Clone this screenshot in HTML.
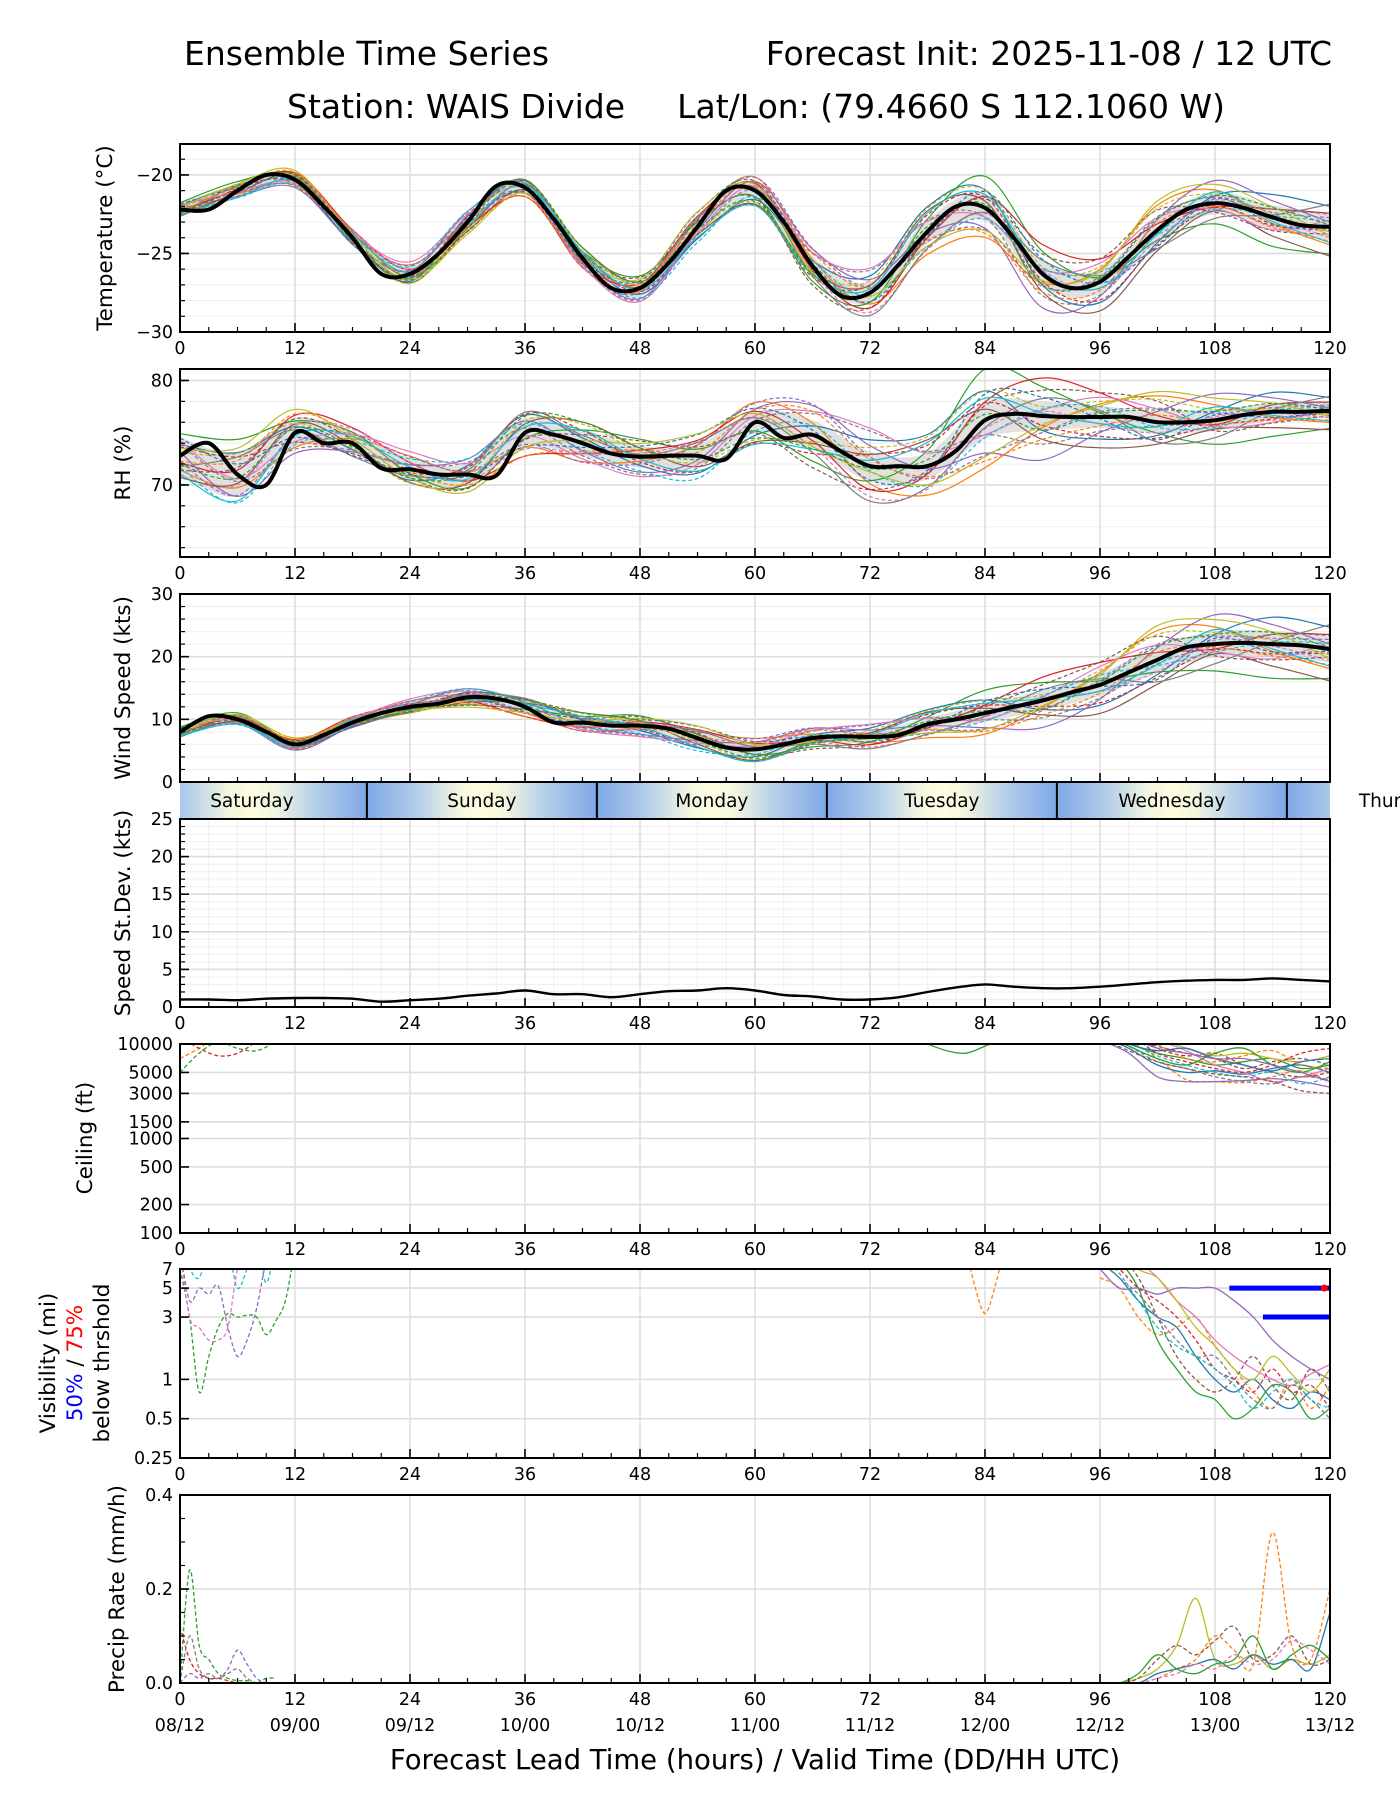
<!DOCTYPE html>
<html><head><meta charset="utf-8"><style>
html,body{margin:0;padding:0;background:#fff;width:1400px;height:1800px;overflow:hidden}
svg{display:block;font-family:"DejaVu Sans","Liberation Sans",sans-serif}
</style></head><body>
<svg id="chart" xmlns="http://www.w3.org/2000/svg" width="1400" height="1800" viewBox="0 0 1400 1800">
<text x="184" y="65" font-size="33">Ensemble Time Series</text>
<text x="1332" y="65" font-size="33" text-anchor="end">Forecast Init: 2025-11-08 / 12 UTC</text>
<text x="287" y="118" font-size="33">Station: WAIS Divide</text>
<text x="1225" y="118" font-size="33" text-anchor="end">Lat/Lon: (79.4660 S 112.1060 W)</text>
<text x="755" y="1769" font-size="27.5" text-anchor="middle">Forecast Lead Time (hours) / Valid Time (DD/HH UTC)</text>
</svg>
<script>
// ---------- data ----------
const hours3 = [0,3,6,9,12,15,18,21,24,27,30,33,36,39,42,45,48,51,54,57,60,63,66,69,72,75,78,81,84,87,90,93,96,99,102,105,108,111,114,117,120];
const hours6 = [0,6,12,18,24,30,36,42,48,54,60,66,72,78,84,90,96,102,108,114,120];
const xTicks = [0,12,24,36,48,60,72,84,96,108,120];
const dateLabels = ["08/12","09/00","09/12","10/00","10/12","11/00","11/12","12/00","12/12","13/00","13/12"];
const dayNames = ["Saturday","Sunday","Monday","Tuesday","Wednesday","Thursday"];
const dayBoundaries = [19.5,43.5,67.5,91.5,115.5];

const tempMean = [-22.2,-22.2,-21.0,-20.0,-20.3,-22.0,-24.0,-26.3,-26.3,-25.0,-23.0,-20.7,-20.8,-22.8,-25.3,-27.2,-27.2,-25.6,-23.3,-21.0,-21.0,-23.0,-25.8,-27.7,-27.5,-25.7,-23.6,-22.0,-22.1,-24.0,-26.3,-27.2,-26.8,-25.2,-23.5,-22.2,-21.8,-22.1,-22.7,-23.2,-23.3];
const rhMean = [72.8,74.0,71.0,70.0,75.0,74.0,74.0,71.6,71.5,71.0,71.0,70.9,75.0,74.8,74.0,73.0,72.7,72.8,72.8,72.5,76.0,74.5,74.8,73.2,71.8,71.8,71.8,73.3,76.2,76.8,76.6,76.5,76.5,76.5,76.0,76.0,76.2,76.7,77.0,77.0,77.1];
const windMean = [8,10.5,10,8,6,7.5,9.5,11,12,12.5,13.5,13.3,12,9.5,9.5,9,9,8.5,7,5.5,5.2,6,7,7.3,7.2,7.5,9.2,10,11,12,13,14.3,15.5,17.5,19.5,21.5,22,22.2,22,21.8,21.2];
const windStd = [1.0,1.0,0.9,1.1,1.2,1.2,1.1,0.7,0.9,1.1,1.5,1.8,2.2,1.7,1.7,1.3,1.7,2.1,2.2,2.5,2.2,1.6,1.4,1.0,1.0,1.3,2.0,2.6,3.0,2.7,2.5,2.5,2.7,3.0,3.3,3.5,3.6,3.6,3.8,3.6,3.4];

const tempSpread = [0.6,0.6,0.6,0.6,0.8,0.8,0.6,0.7,0.8,0.8,0.8,0.9,1.0,1.1,1.2,1.2,1.1,1.1,1.0,1.1,1.2];
const rhSpread = [2.5,3.0,2.0,1.5,1.5,1.5,2.0,1.8,1.5,1.5,1.5,2.0,2.0,1.8,2.5,2.0,1.5,1.5,1.5,1.2,1.0];
const windSpread = [1.0,1.0,1.0,1.0,1.2,1.5,1.5,1.5,1.5,1.5,1.5,1.2,1.2,1.5,2.0,2.2,2.5,3.0,3.0,3.0,3.0];

const memberOffsets = [
 [0.3,0.5,0.2,-0.3,-0.5,0.4,0.6,0.2,-0.4,-0.8,-0.6,0.3,0.9,1.2,0.8,-0.5,-1.0,-0.6,0.4,1.1,0.9],
 [-0.4,-0.3,-0.5,0.2,0.6,0.1,-0.5,-0.7,-0.2,0.5,0.9,0.4,-0.6,-1.1,-1.3,-0.4,0.6,1.2,0.7,-0.3,-0.8],
 [0.6,0.8,0.4,0.5,-0.2,-0.6,-0.2,0.5,0.8,0.3,-0.4,-0.9,-0.5,0.6,1.4,1.0,0.2,-0.5,-1.1,-1.4,-1.2],
 [-0.2,0.1,0.6,0.7,0.3,-0.3,-0.8,-0.4,0.3,0.7,0.5,-0.2,-0.8,-0.3,0.5,1.3,1.1,0.3,-0.2,0.4,0.6],
 [0.1,-0.5,-0.7,-0.4,0.2,0.7,0.4,-0.3,-0.7,-0.2,0.6,1.0,0.7,-0.1,-0.9,-1.5,-0.7,0.5,1.2,0.8,0.2],
 [-0.6,-0.2,0.3,-0.1,-0.6,-0.4,0.3,0.8,0.4,-0.5,-0.9,-0.3,0.4,1.0,0.3,-0.8,-1.4,-1.0,-0.4,-0.9,-1.3],
 [0.4,-0.1,-0.3,0.4,0.8,0.5,-0.1,-0.6,-0.9,-0.4,0.3,0.8,1.3,0.5,-0.4,0.2,0.9,0.6,-0.3,-0.6,0.3],
 [-0.3,0.4,0.1,-0.6,-0.3,0.2,0.7,0.3,0.1,0.6,0.2,-0.6,-1.2,-0.8,-0.2,0.6,0.3,-0.9,-0.8,0.1,1.0],
 [0.2,0.6,0.8,0.2,-0.4,-0.8,-0.5,0.1,0.6,1.0,0.4,-0.4,-0.2,-0.7,-1.0,-0.3,0.5,1.4,1.0,0.5,-0.4],
 [-0.5,-0.6,-0.1,0.3,0.1,-0.2,0.2,0.5,-0.1,-0.7,-1.0,-0.5,0.2,0.9,0.6,0.1,-0.3,-0.2,0.6,-0.2,-0.7]
];

const ceilLateHours = [96,99,102,105,108,111,114,117,120];
const ceilLate = [
 [12000,9000,6000,5000,5200,4800,5500,6000,5000],
 [15000,11000,7000,4200,4000,3900,4500,5200,4000],
 [12000,10000,8000,7000,6000,6500,7000,5500,6000],
 [20000,14000,9000,7500,8000,6000,5000,4500,5000],
 [11000,8000,4500,4000,4000,4100,4300,4000,3500],
 [18000,12000,9500,8000,7000,5500,6500,7000,6000],
 [25000,15000,11000,8500,6000,5000,4000,4500,5500],
 [13000,9500,6500,5500,4500,4000,3800,4500,4200],
 [30000,20000,12000,9000,7500,8000,7000,6500,7500],
 [16000,10500,7500,6000,5000,4500,5000,3800,4500],
 [14000,10000,8500,9000,7000,6000,5200,6500,7000],
 [20000,16000,10000,7000,6500,7500,8500,6000,5500],
 [12500,9500,7000,6000,8000,9000,6000,5000,6500],
 [22000,13000,8000,6500,5500,5000,6000,8000,9000],
 [17000,12000,9000,8000,7000,7000,6000,5000,4000],
 [11500,8500,6500,5500,4800,4500,4000,3200,3000]
];
const ceilEarlyHours = [0,2,4,6,8,10,12];
const ceilEarly = [
 [7000,9000,12000,15000,20000,20000,20000],
 [5000,8000,10500,9000,8500,11000,20000],
 [12000,9000,7500,8000,11000,20000,20000]
];
const ceilMidHours = [76,78,80,82,84,86];
const ceilMid = [12000,10000,8500,8000,9500,12000];

const visEarlyHours = [0,1,2,3,4,5,6,7,8,9,10,11,12];
const visEarly = [
 [7,3,0.8,1.5,2.5,3.2,3,3.1,3,2.2,2.8,4,10],
 [10,4,5,4.5,5.2,2.5,1.5,2,3.5,8,10,10,10],
 [10,7,6,10,10,10,5,7,10,5.5,10,10,10],
 [10,3,2.5,2,2,2.5,7,10,10,10,10,10,10]
];
const visLateHours = [96,98,100,102,104,106,108,110,112,114,116,118,120];
const visLate = [
 [8,6,4,3,2.5,1.5,1,0.8,1,0.7,0.6,0.8,0.7],
 [6,5,3,2.2,2.5,3,1.8,1.2,0.8,0.6,1,0.6,0.9],
 [10,8,5,2,1.2,0.8,0.7,0.5,0.6,0.9,0.8,0.5,0.6],
 [9,7,5,4,3,2,1.2,1,0.8,1.2,0.8,0.9,0.6],
 [7,5,5,4.5,5,5,5,4,3,2,1.5,1.2,1.0],
 [10,9,6,3,1.5,1,0.8,1,1.5,0.9,0.7,1.2,0.8],
 [12,10,8,6,4,3,2,1.5,1.2,1,0.9,1.1,1.3],
 [8,6,4.5,3,2,1.5,1.5,1,0.7,0.6,0.9,0.7,0.5],
 [15,10,7,6,4,2.5,1.8,1.2,1,1.5,1.1,0.8,1.2],
 [9,6.5,4,2.5,1.8,1.5,1.2,0.9,0.6,0.8,1.0,0.7,0.6]
];
const visMidHours = [82,83,84,85,86];
const visMid = [10,5,3.2,5,10];
const vis50Hours = [109.5,120];
const vis50Value = [5,5];
const vis75Hours = [113,120];
const vis75Value = [3,3];

const precipEarlyHours = [0,1,2,3,4,5,6,7,8,9,10];
const precipEarly = [
 [0,0.24,0.08,0.05,0.02,0.01,0.005,0.005,0,0.01,0.01],
 [0,0.02,0.01,0.02,0.01,0.03,0.07,0.04,0.01,0,0],
 [0.12,0.05,0.02,0.01,0.01,0.005,0,0,0,0,0],
 [0,0.1,0.03,0.01,0.01,0.02,0.03,0.01,0,0,0]
];
const precipLateHours = [96,98,100,102,104,106,108,110,112,114,116,118,120];
const precipLate = [
 [0,0,0.01,0.03,0.08,0.18,0.05,0.04,0.06,0.03,0.05,0.04,0.06],
 [0,0,0,0.01,0.03,0.05,0.1,0.07,0.04,0.32,0.08,0.05,0.2],
 [0,0,0,0.02,0.03,0.04,0.05,0.03,0.06,0.04,0.05,0.03,0.15],
 [0,0,0.01,0.05,0.08,0.06,0.09,0.12,0.05,0.06,0.1,0.04,0.05],
 [0,0,0.02,0.06,0.03,0.02,0.04,0.05,0.1,0.03,0.06,0.08,0.05],
 [0,0,0,0.01,0.02,0.04,0.03,0.06,0.04,0.05,0.09,0.07,0.04]
];

// ---------- helpers ----------
const NS = "http://www.w3.org/2000/svg";
const svg = document.getElementById('chart');
const colors = ["#1f77b4","#ff7f0e","#2ca02c","#d62728","#9467bd","#8c564b","#e377c2","#7f7f7f","#bcbd22","#17becf"];
const X0 = 180, X1 = 1330;
const YT = 21.5;
function xs(h){ return X0 + h*(X1-X0)/120; }
function mk(tag, attrs, parent){
  const e = document.createElementNS(NS, tag);
  for (const k in attrs) e.setAttribute(k, attrs[k]);
  (parent||svg).appendChild(e);
  return e;
}
function smoothPath(pts){
  if (pts.length<2) return "";
  let d = "M"+pts[0][0].toFixed(1)+","+pts[0][1].toFixed(1);
  for (let i=0;i<pts.length-1;i++){
    const p0=pts[Math.max(0,i-1)], p1=pts[i], p2=pts[i+1], p3=pts[Math.min(pts.length-1,i+2)];
    const c1x=p1[0]+(p2[0]-p0[0])/6, c1y=p1[1]+(p2[1]-p0[1])/6;
    const c2x=p2[0]-(p3[0]-p1[0])/6, c2y=p2[1]-(p3[1]-p1[1])/6;
    d += "C"+c1x.toFixed(1)+","+c1y.toFixed(1)+" "+c2x.toFixed(1)+","+c2y.toFixed(1)+" "+p2[0].toFixed(1)+","+p2[1].toFixed(1);
  }
  return d;
}
let clipId = 0;
function makePanel(name, top, bottom, ymin, ymax, log){
  const ys = log
    ? v => bottom - (Math.log10(v)-Math.log10(ymin))/(Math.log10(ymax)-Math.log10(ymin))*(bottom-top)
    : v => bottom - (v-ymin)/(ymax-ymin)*(bottom-top);
  const g = mk('g', {});
  
  
  const cid = 'clip'+(clipId++);
  const cp = mk('clipPath', {id:cid}, g);
  mk('rect', {x:X0, y:top, width:X1-X0, height:bottom-top}, cp);
  const grid = mk('g', {}, g);
  
  
  const data = mk('g', {'clip-path':'url(#'+cid+')'}, g);
  
  
  const axes = mk('g', {}, g);
  
  
  return {g, grid, data, axes, top, bottom, ys};
}
function hgrid(p, vals, color, w){
  vals.forEach(v=>{ const y=p.ys(v); mk('line',{x1:X0,x2:X1,y1:y,y2:y,stroke:color,'stroke-width':w}, p.grid); });
}
function vgrid(p, hs, color, w){
  hs.forEach(h=>{ const x=xs(h); mk('line',{x1:x,x2:x,y1:p.top,y2:p.bottom,stroke:color,'stroke-width':w}, p.grid); });
}
function finishAxes(p, yTicks, yLabels, yMinor, name, noXLabels){
  for (let h=0; h<=120; h+=3){
    const major = h%12===0, x=xs(h);
    mk('line',{x1:x,x2:x,y1:p.bottom,y2:p.bottom-(major?9:5),stroke:'#000','stroke-width':major?1.6:1.2}, p.axes);
  }
  if (!noXLabels) xTicks.forEach(h=>{
    const t = mk('text',{x:xs(h),y:p.bottom+22,'font-size':17.5,'text-anchor':'middle'}, p.axes);
    
    
    t.textContent = h;
  });
  yMinor.forEach(v=>{ const y=p.ys(v); mk('line',{x1:X0,x2:X0+5,y1:y,y2:y,stroke:'#000','stroke-width':1.2}, p.axes); });
  yTicks.forEach((v,i)=>{
    const y=p.ys(v);
    mk('line',{x1:X0,x2:X0+9,y1:y,y2:y,stroke:'#000','stroke-width':1.6}, p.axes);
    const t = mk('text',{x:X0-7,y:y+6,'font-size':17.5,'text-anchor':'end'}, p.axes);
    
    
    t.textContent = yLabels[i];
  });
  const fr = mk('rect',{x:X0,y:p.top,width:X1-X0,height:p.bottom-p.top,fill:'none',stroke:'#000','stroke-width':2}, p.axes);
  
  
}
function yTitle(x, cy, text, name){
  const t = mk('text',{x:x,y:cy,'font-size':YT,'text-anchor':'middle',transform:'rotate(-90 '+x+' '+cy+')'});
  
  
  t.textContent = text;
  return t;
}
function range(a,b,s){ const r=[]; for(let v=a; v<=b+1e-9; v+=s) r.push(+v.toFixed(4)); return r; }

function ensemblePanel(name, top, bottom, ymin, ymax, mean, spread, scale){
  const p = makePanel(name, top, bottom, ymin, ymax, false);
  const up = hours6.map((h,j)=>[xs(h), p.ys(mean[2*j]+spread[j]*0.7)]);
  const dn = hours6.map((h,j)=>[xs(h), p.ys(mean[2*j]-spread[j]*0.7)]).reverse();
  const band = mk('path',{d:smoothPath(up)+" L"+smoothPath(dn).slice(1)+" Z",fill:'#c8c8c8','fill-opacity':0.55,stroke:'none'}, p.data);
  
  
  memberOffsets.forEach((off,i)=>{
    [1,-0.8].forEach((sgn,k)=>{
      const pts = hours6.map((h,j)=>[xs(h), p.ys(mean[2*j]+sgn*off[(j+k*3)%21]*spread[j]*scale)]);
      const l = mk('path',{d:smoothPath(pts),fill:'none',stroke:colors[(i+k*3)%10],'stroke-width':1.2,'stroke-dasharray':k?'4,2.5':'none'}, p.data);
      
      
    });
  });
  const m = mk('path',{d:smoothPath(hours3.map((h,i)=>[xs(h),p.ys(mean[i])])),fill:'none',stroke:'#000','stroke-width':4,'stroke-linejoin':'round'}, p.data);
  
  
  return p;
}

// ---------- Temperature ----------
let p = ensemblePanel('temperature', 144, 332, -30, -18.03, tempMean, tempSpread, 1.2);
hgrid(p, range(-30,-19,1), '#f0f0f0', 1.2); hgrid(p, [-20,-25,-30], '#dcdcdc', 1.6); vgrid(p, xTicks, '#e0e0e0', 1.6);
finishAxes(p, [-30,-25,-20], ['−30','−25','−20'], range(-30,-19,1), 'temperature');
yTitle(112, 238, 'Temperature (°C)', 'temperature-y-title');

// ---------- RH ----------
p = ensemblePanel('rh', 369, 557, 63.1, 81.1, rhMean, rhSpread, 1.4);
hgrid(p, range(64,80,2), '#f0f0f0', 1.2); hgrid(p, [70,80], '#dcdcdc', 1.6); vgrid(p, xTicks, '#e0e0e0', 1.6);
finishAxes(p, [70,80], ['70','80'], range(64,80,2), 'rh');
yTitle(130, 463, 'RH (%)', 'rh-y-title');

// ---------- Wind ----------
p = ensemblePanel('wind', 594, 782, 0, 30, windMean, windSpread, 1.3);
hgrid(p, range(0,30,2), '#f0f0f0', 1.2); hgrid(p, [0,10,20,30], '#dcdcdc', 1.6); vgrid(p, xTicks, '#e0e0e0', 1.6);
finishAxes(p, [0,10,20,30], ['0','10','20','30'], range(0,30,2), 'wind', true);
yTitle(130, 688, 'Wind Speed (kts)', 'wind-y-title');

// ---------- Day band ----------
(function(){
  const top=783, bot=818;
  const g = mk('g',{});
  
  
  const defs = mk('defs',{}, g);
  const starts = [-4.5].concat(dayBoundaries);
  starts.forEach((s,i)=>{
    const gid='dg'+i;
    const lg = mk('linearGradient',{id:gid,gradientUnits:'userSpaceOnUse',x1:xs(s),x2:xs(s+24),y1:0,y2:0}, defs);
    [[0,'#7ea8e6'],[0.22,'#b3cdea'],[0.4,'#f3f6e0'],[0.5,'#fdfde0'],[0.6,'#f3f6e0'],[0.78,'#b3cdea'],[1,'#7ea8e6']].forEach(st=>{
      mk('stop',{offset:st[0],'stop-color':st[1]}, lg);
    });
    const a=Math.max(0,s), b=Math.min(120,s+24);
    if (b>a){
      const r = mk('rect',{x:xs(a),y:top,width:xs(b)-xs(a),height:bot-top,fill:'url(#'+gid+')'}, g);
      
      
    }
    const t = mk('text',{x:xs(s+12),y:top+24,'font-size':18.5,'text-anchor':'middle'}, g);
    
    
    t.textContent = dayNames[i];
  });
  dayBoundaries.forEach(b=>{
    const l = mk('line',{x1:xs(b),x2:xs(b),y1:top,y2:bot,stroke:'#000','stroke-width':2}, g);
    
    
  });
})();

// ---------- Std dev ----------
p = makePanel('speed-stdev', 819, 1007, 0, 25, false);
hgrid(p, range(0,25,1), '#f0f0f0', 1.2); vgrid(p, range(0,120,3), '#f0f0f0', 1.2);
hgrid(p, [0,5,10,15,20,25], '#dcdcdc', 1.6); vgrid(p, xTicks, '#e0e0e0', 1.6);
(function(){
  const l = mk('path',{d:smoothPath(hours3.map((h,i)=>[xs(h),p.ys(windStd[i])])),fill:'none',stroke:'#000','stroke-width':2.4}, p.data);
  
  
})();
finishAxes(p, [0,5,10,15,20,25], ['0','5','10','15','20','25'], range(0,25,1), 'speed-stdev');
yTitle(130, 913, 'Speed St.Dev. (kts)', 'speed-stdev-y-title');

// ---------- Ceiling ----------
const ceilTicks = [100,200,500,1000,1500,3000,5000,10000];
p = makePanel('ceiling', 1044, 1233, 100, 10000, true);
hgrid(p, ceilTicks, '#dcdcdc', 1.6); vgrid(p, xTicks, '#e0e0e0', 1.6);
function drawSeries(p, name, hrs, vals, i, dashed, smooth){
  const pts = hrs.map((h,j)=>[xs(h), p.ys(vals[j])]);
  const l = mk('path',{d: smooth?smoothPath(pts):'M'+pts.map(q=>q[0].toFixed(1)+','+q[1].toFixed(1)).join('L'),fill:'none',stroke:colors[i%10],'stroke-width':1.3,'stroke-dasharray':dashed?'4,2.5':'none'}, p.data);
  
  
}
ceilLate.forEach((m,i)=>drawSeries(p,'ceiling-member-line',ceilLateHours,m,i,i%2===1,true));
ceilEarly.forEach((m,i)=>drawSeries(p,'ceiling-member-line',ceilEarlyHours,m,i+1,true,true));
drawSeries(p,'ceiling-member-line',ceilMidHours,ceilMid,2,false,true);
finishAxes(p, ceilTicks, ceilTicks.map(String), [], 'ceiling');
yTitle(92, 1138, 'Ceiling (ft)', 'ceiling-y-title');

// ---------- Visibility ----------
const visTicks = [0.25,0.5,1,3,5,7];
p = makePanel('visibility', 1269, 1458, 0.25, 7, true);
hgrid(p, visTicks, '#dcdcdc', 1.6); vgrid(p, xTicks, '#e0e0e0', 1.6);
visEarly.forEach((m,i)=>drawSeries(p,'visibility-member-line',visEarlyHours,m,[2,4,9,6][i],true,true));
visLate.forEach((m,i)=>drawSeries(p,'visibility-member-line',visLateHours,m,i,i%2===1,true));
drawSeries(p,'visibility-member-line',visMidHours,visMid,1,true,true);
(function(){
  const a = mk('line',{x1:xs(vis50Hours[0]),x2:xs(vis50Hours[1]),y1:p.ys(vis50Value[0]),y2:p.ys(vis50Value[1]),stroke:'#0000ff','stroke-width':5}, p.data);
  
  
  const b = mk('line',{x1:xs(vis75Hours[0]),x2:xs(vis75Hours[1]),y1:p.ys(vis75Value[0]),y2:p.ys(vis75Value[1]),stroke:'#0000ff','stroke-width':5}, p.data);
  
  
  const c = mk('circle',{cx:xs(119.4),cy:p.ys(5),r:3.5,fill:'#ff0000'}, p.data);
  
  
})();
finishAxes(p, visTicks, ['0.25','0.5','1','3','5','7'], [], 'visibility');
yTitle(55, 1363, 'Visibility (mi)', 'visibility-y-title');
(function(){
  const t = mk('text',{x:82,y:1363,'font-size':YT,'text-anchor':'middle',transform:'rotate(-90 82 1363)'});
  
  
  const s1 = mk('tspan',{fill:'#0000ff'}, t); s1.textContent='50%';
  const s2 = mk('tspan',{fill:'#000'}, t); s2.textContent=' / ';
  const s3 = mk('tspan',{fill:'#ff0000'}, t); s3.textContent='75%';
})();
yTitle(109, 1363, 'below thrshold', 'visibility-threshold-title');

// ---------- Precip ----------
p = makePanel('precip', 1495, 1683, 0, 0.4, false);
hgrid(p, [0,0.2,0.4], '#dcdcdc', 1.6); vgrid(p, xTicks, '#e0e0e0', 1.6);
precipEarly.forEach((m,i)=>drawSeries(p,'precip-member-line',precipEarlyHours,m,[2,4,3,7][i],true,true));
precipLate.forEach((m,i)=>drawSeries(p,'precip-member-line',precipLateHours,m,[8,1,0,5,2,6][i],i%2===1,true));
finishAxes(p, [0,0.2,0.4], ['0.0','0.2','0.4'], range(0,0.4,0.05), 'precip');
yTitle(124, 1589, 'Precip Rate (mm/h)', 'precip-y-title');
dateLabels.forEach((d,i)=>{
  const t = mk('text',{x:xs(xTicks[i]),y:1731,'font-size':17.5,'text-anchor':'middle'});
  
  
  t.textContent = d;
});
</script>
</body></html>
